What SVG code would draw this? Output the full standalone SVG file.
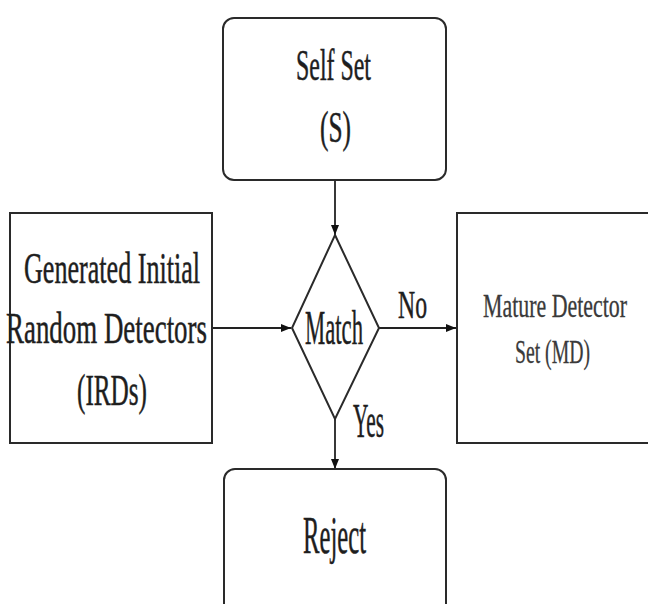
<svg xmlns="http://www.w3.org/2000/svg" width="648" height="604" viewBox="0 0 648 604">
<style>
.box{fill:#fff;stroke:#2a2a2a;stroke-width:2}
.t{font-family:'Liberation Serif','DejaVu Serif',serif;fill:#1e1e1e;stroke:#1e1e1e;stroke-width:0.5}
.g{fill:#3a3a3a;stroke:#3a3a3a;stroke-width:0.3}
.ln{stroke:#222;stroke-width:1.8;fill:none}
</style>
<defs>
<marker id="ah" viewBox="0 0 10 10" refX="10" refY="5" markerWidth="10" markerHeight="10" markerUnits="userSpaceOnUse" orient="auto">
<path d="M0,1 L10,5 L0,9 Z" fill="#111"/>
</marker>
</defs>
<rect width="648" height="604" fill="#fff"/>
<g id="connectors">
<line class="ln" x1="335" y1="180" x2="335" y2="235" marker-end="url(#ah)"/>
<line class="ln" x1="212" y1="328" x2="291" y2="328" marker-end="url(#ah)"/>
<line class="ln" x1="379" y1="328" x2="456" y2="328" marker-end="url(#ah)"/>
<line class="ln" x1="335" y1="419" x2="335" y2="469" marker-end="url(#ah)"/>
<text class="t" x="398" y="318" font-size="40" textLength="29" lengthAdjust="spacingAndGlyphs">No</text>
<text class="t" x="353" y="437" font-size="48" textLength="31" lengthAdjust="spacingAndGlyphs">Yes</text>
</g>
<g id="self-set">
<rect class="box" x="223" y="18" width="223" height="162" rx="11"/>
<text class="t" x="296" y="80" font-size="44" textLength="75" lengthAdjust="spacingAndGlyphs">Self Set</text>
<text class="t" x="320" y="142" font-size="44" textLength="31" lengthAdjust="spacingAndGlyphs">(S)</text>
</g>
<g id="irds">
<rect class="box" x="10" y="213" width="202" height="230"/>
<text class="t" x="24" y="283" font-size="45" textLength="176" lengthAdjust="spacingAndGlyphs">Generated Initial</text>
<text class="t" x="6" y="343" font-size="45" textLength="201" lengthAdjust="spacingAndGlyphs">Random Detectors</text>
<text class="t" x="77" y="405" font-size="45" textLength="70" lengthAdjust="spacingAndGlyphs">(IRDs)</text>
</g>
<g id="match">
<polygon class="box" points="335,235 379,328 335,419 292,328"/>
<text class="t" x="305" y="344" font-size="48" textLength="58" lengthAdjust="spacingAndGlyphs">Match</text>
</g>
<g id="mature">
<rect class="box" x="457" y="213" width="260" height="230"/>
<text class="t g" x="483" y="317" font-size="33" textLength="144" lengthAdjust="spacingAndGlyphs">Mature Detector</text>
<text class="t g" x="515" y="363" font-size="34" textLength="75" lengthAdjust="spacingAndGlyphs">Set (MD)</text>
</g>
<g id="reject">
<rect class="box" x="224" y="469" width="222" height="200" rx="11"/>
<text class="t" x="303" y="553" font-size="52" textLength="63" lengthAdjust="spacingAndGlyphs">Reject</text>
</g>
</svg>
